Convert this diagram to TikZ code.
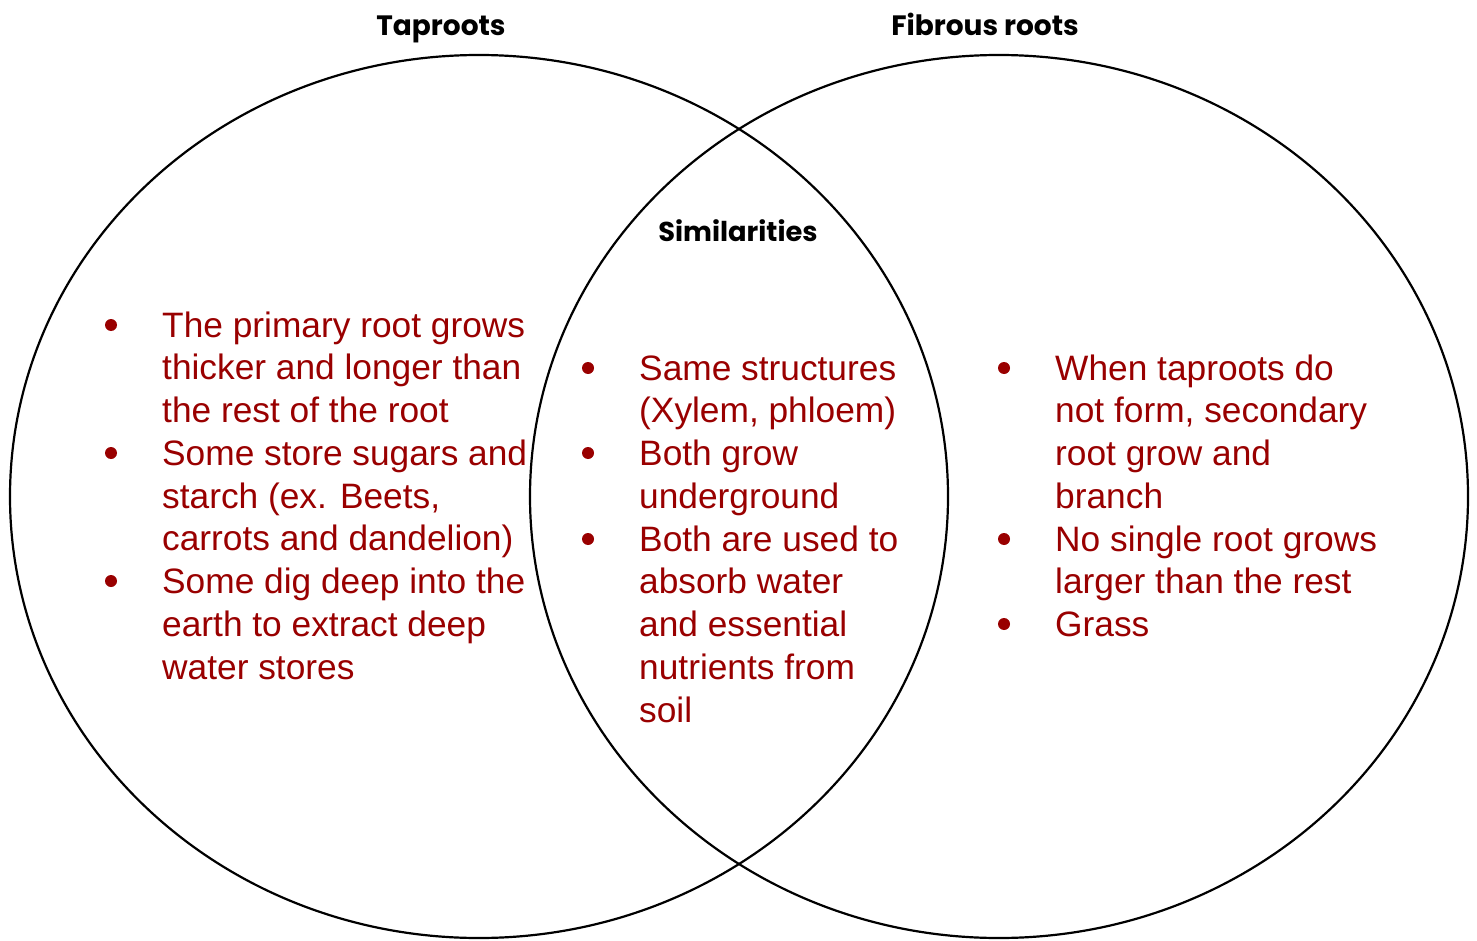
\documentclass[tikz,border=0pt]{standalone}
\usepackage{fontspec}
\setmainfont{Liberation Sans}
\newfontfamily\titlefont{Poppins}[UprightFont=*-SemiBold,BoldFont=*-Bold]
\definecolor{darkred}{HTML}{990000}
\newcommand{\colfont}{\fontsize{35.3}{42.75}\selectfont}
\tikzset{
  venn/.style={draw=black, line width=2.2pt},
  heading/.style={font=\titlefont\fontsize{28}{32}\selectfont\bfseries, text=black, inner sep=0pt, anchor=base},
  column/.style={font=\colfont, text=darkred, inner sep=0pt, anchor=base west, align=left},
  dot/.style={circle, fill=darkred, inner sep=0pt, minimum size=12pt},
}
\begin{document}
\begin{tikzpicture}[x=1pt,y=-1pt]
\useasboundingbox (0,0) rectangle (1477,941);
\draw[venn] (479,496.5) ellipse [x radius=469, y radius=441.5];
\draw[venn] (999,496.5) ellipse [x radius=469, y radius=441.5];

\node[heading] (tap) at (441,36) {Taproots};
\node[heading] (fib) at (985,36) {Fibrous roots};
\node[heading, font=\titlefont\fontsize{27.3}{32}\selectfont\bfseries] (sim) at (738,242) {Similarities};

% left column
\node[dot] (lb1) at (111,325) {};
\node[dot] (lb2) at (111,453) {};
\node[dot] (lb3) at (111,581) {};
\node[column] (left) at (162,337) {\begin{tabular}[t]{@{}l@{}}
The primary root grows\\
thicker and longer than\\
the rest of the root\\
Some store sugars and\\
starch (ex. Beets,\\
carrots and dandelion)\\
Some dig deep into the\\
earth to extract deep\\
water stores
\end{tabular}};

% middle column
\node[dot] (mb1) at (588,368) {};
\node[dot] (mb2) at (588,453) {};
\node[dot] (mb3) at (588,539) {};
\node[column] (mid) at (639,380) {\begin{tabular}[t]{@{}l@{}}
Same structures\\
(Xylem, phloem)\\
Both grow\\
underground\\
Both are used to\\
absorb water\\
and essential\\
nutrients from\\
soil
\end{tabular}};

% right column
\node[dot] (rb1) at (1004,368) {};
\node[dot] (rb2) at (1004,539) {};
\node[dot] (rb3) at (1004,624) {};
\node[column] (right) at (1055,380) {\begin{tabular}[t]{@{}l@{}}
When taproots do\\
not form, secondary\\
root grow and\\
branch\\
No single root grows\\
larger than the rest\\
Grass
\end{tabular}};
\end{tikzpicture}
\end{document}
